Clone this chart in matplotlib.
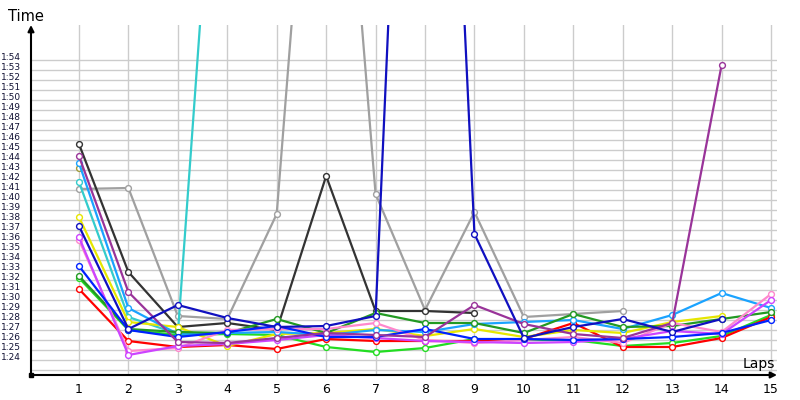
import numpy as np
import matplotlib
matplotlib.use("Agg")
import matplotlib.pyplot as plt

# lap times in seconds (1:30 -> 90), None = no lap
laps = list(range(1, 16))
red = [91.1, 85.9, 85.3, 85.5, 85.1, 86.1, 85.9, 85.9, 85.9, 86.1, 87.7, 85.3, 85.3, 86.2, 88.3]
lime = [92.2, 87.0, 86.5, 86.6, 86.5, 85.3, 84.8, 85.2, 86.1, 86.0, 86.0, 85.4, 85.7, 86.4, 88.5]
green = [92.4, 87.1, 86.8, 86.7, 88.1, 86.7, 88.7, 87.7, 87.7, 86.7, 88.6, 87.3, 87.4, 88.1, 88.8]
blue = [93.4, 87.0, 86.3, 86.8, 87.4, 86.3, 86.3, 87.1, 86.1, 86.1, 86.0, 86.1, 86.3, 86.7, 88.0]
navy = [97.4, 87.1, 89.5, 88.2, 87.3, 87.4, 88.4, 202.0, 96.6, 86.2, 87.3, 88.1, 86.8, 88.1, None]
black = [105.6, 92.8, 87.3, 87.7, 87.0, 102.4, 88.9, 88.9, 88.7]
gray = [101.1, 101.2, 88.4, 88.1, 98.6, 161.5, 100.6, 89.0, 98.8, 88.3, 88.6, 88.9]
cyan = [101.8, 88.3, 86.6, 155.6]
skyblue = [103.7, 89.2, 86.6, 86.7, 86.8, 86.5, 87.0, 86.8, 87.6, 87.8, 88.0, 87.1, 88.5, 90.7, 89.2]
purple = [104.4, 90.8, 85.8, 85.7, 86.2, 86.7, 86.5, 86.3, 89.5, 87.6, 86.6, 86.2, 87.7, 113.5]
violet = [96.3, 84.5, 85.4, 85.6, 86.0, 86.5, 86.2, 85.9, 85.8, 85.7, 85.8, 86.1, 86.9, 86.6, 90.0]
pink = [96.0, 84.9, 85.2, 87.0, 87.1, 87.1, 87.7, 86.0, 85.7, 86.0, 86.3, 85.7, 87.7, 86.8, 90.6]
yellow = [98.3, 87.8, 87.3, 85.4, 86.6, 86.7, 87.1, 86.4, 87.1, 86.3, 87.0, 86.7, 87.8, 88.4]
olive = [103.2]

series = [
    (olive, "#a09a3a"),
    (gray, "#a0a0a0"),
    (cyan, "#33cccc"),
    (black, "#333333"),
    (lime, "#22dd22"),
    (red, "#ff0000"),
    (yellow, "#e6e600"),
    (skyblue, "#1aa3ff"),
    (green, "#229922"),
    (pink, "#ff88cc"),
    (violet, "#cc44ff"),
    (blue, "#0022ff"),
    (purple, "#993399"),
    (navy, "#1010c0"),
]

y_ticks = list(range(83, 115))
y_labels = ["" if s == 83 else "1:%02d" % (s - 60) for s in y_ticks]

fig = plt.figure(figsize=(8, 4), dpi=100)
ax = fig.add_axes([31 / 800, 25 / 400, 746 / 800, 350 / 400])

for vals, col in series:
    y = np.array([np.nan if v is None else v for v in vals], dtype=float)
    ax.plot(laps[:len(y)], y, color=col, lw=1.6, marker="o", ms=4.2,
            mfc="white", mec=col, mew=1.0, zorder=3)

ax.set_xlim(0.03, 15.12)
ax.set_ylim(82.5, 117.5)
ax.set_xticks(laps)
ax.set_xticklabels([str(l) for l in laps], fontsize=9)
ax.set_yticks(y_ticks)
ax.set_yticklabels(y_labels, fontsize=6.5, color="#111133")
for t in ax.get_yticklabels():
    t.set_va("baseline")
ax.tick_params(axis="both", length=0)
ax.tick_params(axis="y", pad=7)
ax.tick_params(axis="x", pad=6)
ax.grid(True, color="#cccccc", lw=1, zorder=0)
ax.set_axisbelow(True)
for s in ax.spines.values():
    s.set_visible(False)

# axis arrows
ax.annotate("", xy=(0, 1.0), xytext=(0, 0), xycoords="axes fraction",
            arrowprops=dict(arrowstyle="-|>", color="black", lw=1.5,
                            mutation_scale=9, shrinkA=0, shrinkB=0))
ax.annotate("", xy=(1.0, 0), xytext=(0, 0), xycoords="axes fraction",
            arrowprops=dict(arrowstyle="-|>", color="black", lw=1.5,
                            mutation_scale=9, shrinkA=0, shrinkB=0))
ax.plot([0], [0], "s", color="black", ms=3, transform=ax.transAxes, clip_on=False)

fig.text(8 / 800, 1 - 21 / 400, "Time", fontsize=10.5, va="baseline", ha="left")
fig.text(775 / 800, 1 - 368 / 400, "Laps", fontsize=10, va="baseline", ha="right")

fig.savefig("out.png", dpi=100)
